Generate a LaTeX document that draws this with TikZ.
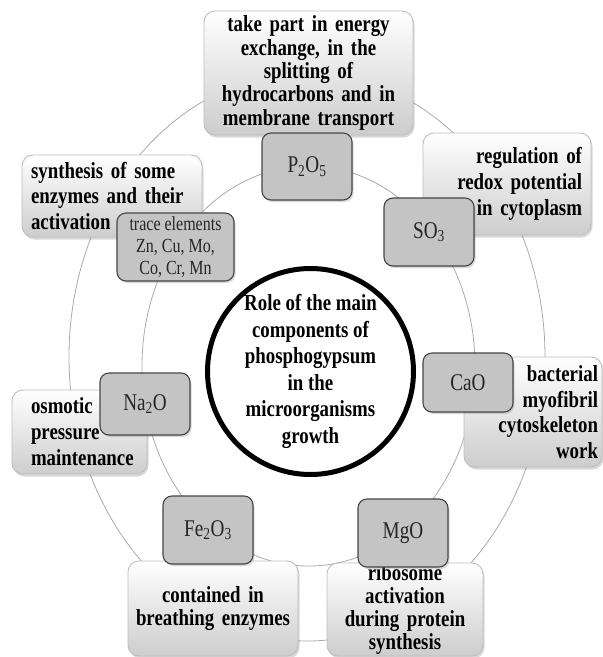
\documentclass[tikz,border=0pt]{standalone}
\usepackage{fontspec}
\setmainfont{Liberation Serif}
\newfontfamily\serifb[FakeStretch=0.82]{Liberation Serif}
\newfontfamily\serifl[FakeStretch=0.8]{Liberation Serif}
\usetikzlibrary{shadows}
\definecolor{ringgray}{RGB}{170,170,170}
\definecolor{iboxfill}{RGB}{196,196,196}
\definecolor{iboxline}{RGB}{70,70,70}
\definecolor{oboxline}{RGB}{190,190,190}
\definecolor{oboxbot}{RGB}{205,205,205}
\begin{document}
\begin{tikzpicture}[x=1pt,y=-1pt,
  ring/.style={draw=ringgray, line width=0.8pt},
  obox/.style={rectangle, rounded corners=11pt, draw=oboxline, line width=0.9pt,
    top color=white, bottom color=oboxbot,
    drop shadow={opacity=0.3, shadow xshift=1.5pt, shadow yshift=-2.5pt},
    text=black, inner ysep=0pt},
  ibox/.style={rectangle, rounded corners=9pt, draw=iboxline, line width=1.1pt,
    fill=iboxfill,
    drop shadow={opacity=0.3, shadow xshift=1.5pt, shadow yshift=-2pt},
    font={\serifl\fontsize{24}{26}\selectfont}, text=black!85, align=center,
    minimum width=90pt, inner sep=2pt},
  hubnode/.style={circle, draw=black, line width=5pt, fill=white,
    minimum size=206pt, inner sep=0pt, align=center,
    font={\serifb\bfseries\fontsize{23}{26.6}\selectfont}}
]
\useasboundingbox (0,0) rectangle (603,657);
\fill[white] (0,0) rectangle (603,657);

% rings
\draw[ring] (307,357) ellipse [x radius=238, y radius=284];
\draw[ring] (308.5,366) ellipse [x radius=166.5, y radius=200];

% outer boxes
\node[obox, minimum width=209pt, minimum height=124pt, text width=189pt, inner xsep=10pt,
  align=center, font={\serifb\bfseries\fontsize{23}{23.3}\selectfont}] (energy) at (308.5,73)
  {take part in energy\\exchange, in the\\splitting of\\hydrocarbons and in\\membrane transport};
\node[obox, minimum width=168pt, minimum height=102pt, text width=150pt, inner xsep=9pt,
  align=right, font={\serifb\bfseries\fontsize{23}{25.8}\selectfont}] (redox) at (507,184)
  {regulation of\\redox potential\\in cytoplasm};
\node[obox, minimum width=180pt, minimum height=82pt, text width=162pt, inner xsep=9pt,
  align=left, font={\serifb\bfseries\fontsize{23}{25.7}\selectfont}] (synth) at (112,196)
  {synthesis of some\\enzymes and their\\activation};
\node[obox, minimum width=135pt, minimum height=84pt, text width=97pt, inner xsep=19pt,
  align=left, font={\serifb\bfseries\fontsize{23}{26}\selectfont}] (osmo) at (79.5,432)
  {osmotic\\pressure\\maintenance};
\node[obox, minimum width=138pt, minimum height=110pt, text width=130pt, inner xsep=4pt,
  align=right, font={\serifb\bfseries\fontsize{23}{25.7}\selectfont}] (bact) at (533,412)
  {bacterial\\myofibril\\cytoskeleton\\work};
\node[obox, minimum width=170pt, minimum height=95pt, text width=160pt, inner xsep=5pt,
  align=center, font={\serifb\bfseries\fontsize{23}{23}\selectfont}] (breath) at (213,608.5)
  {contained in\\breathing enzymes};
\node[obox, minimum width=156pt, minimum height=93pt, text width=146pt, inner xsep=5pt,
  align=center, font={\serifb\bfseries\fontsize{23}{22.7}\selectfont}] (ribo) at (405,609.5)
  {ribosome\\activation\\during protein\\synthesis};

% inner boxes
\node[ibox, minimum height=67pt] (p2o5) at (307,166.5) {P\textsubscript{2}O\textsubscript{5}};
\node[ibox, minimum height=68pt] (so3) at (429,232) {SO\textsubscript{3}};
\node[ibox, minimum width=117pt, minimum height=68pt,
  font={\serifl\fontsize{20}{22}\selectfont}] (trace) at (175.5,247)
  {trace elements\\Zn, Cu, Mo,\\Co, Cr, Mn};
\node[ibox, minimum height=62pt] (na2o) at (145,404) {Na\textsubscript{2}O};
\node[ibox, minimum height=59pt] (cao) at (468,382.5) {CaO};
\node[ibox, minimum height=68pt] (fe2o3) at (208,530) {Fe\textsubscript{2}O\textsubscript{3}};
\node[ibox, minimum height=68pt] (mgo) at (403,533) {MgO};

% hub
\node[hubnode] (hub) at (310.5,371.5)
  {Role of the main\\components of\\phosphogypsum\\in the\\microorganisms\\growth};
\end{tikzpicture}
\end{document}
